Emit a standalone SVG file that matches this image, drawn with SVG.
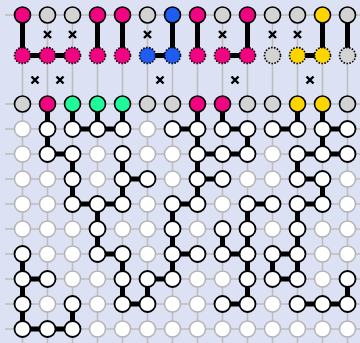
<svg xmlns="http://www.w3.org/2000/svg" width="360" height="343" viewBox="0 0 360 343">
<style>
.bg{fill:#dde1f4}
.gl{stroke:#bdbdbd;stroke-width:1.5;fill:none}
.e{stroke:#000;stroke-width:5;fill:none}
.x{stroke:#000;stroke-width:2.4;fill:none}
circle{stroke-width:1.6}
.t{stroke:#000}
.d{stroke:#000;stroke-dasharray:1.6 1.4}
.a{fill:#fff;stroke:#000;stroke-width:1.8}
.i{fill:#fff;stroke:#b3b3b3;stroke-width:1.5}
.pk{fill:#f0047f}.gy{fill:#d3d3d3}.bl{fill:#1f5cf0}.yl{fill:#ffd500}.gr{fill:#1ffb9b}
</style>
<rect class="bg" width="360" height="343"/>
<g id="grid">
<path class="gl" d="M5 15H360M5 104H360M5 129H360M5 154H360M5 179H360M5 204H360M5 229H360M5 254H360M5 279H360M5 304H360M5 329H360M22.5 15V343M47.5 15V343M72.5 15V343M97.5 15V343M122.5 15V343M147.5 15V343M172.5 15V343M197.5 15V343M222.5 15V343M247.5 15V343M272.5 15V343M297.5 15V343M322.5 15V343M347.5 15V343"/>
</g>
<g id="connectors">
<path class="e" d="M22.5 15V55.5M97.5 15V55.5M122.5 15V55.5M172.5 15V55.5M197.5 15V55.5M247.5 15V55.5M322.5 15V55.5M347.5 15V55.5M22.5 55.5H72.5M147.5 55.5H172.5M222.5 55.5H247.5M297.5 55.5H322.5M47.5 104V129M72.5 104V129M97.5 104V129M122.5 104V129M197.5 104V129M222.5 104V129M297.5 104V129M322.5 104V129M72.5 129H122.5M172.5 129H197.5M222.5 129H247.5M272.5 129H297.5M322.5 129H347.5M47.5 129V154M197.5 129V154M247.5 129V154M322.5 129V154M47.5 154H72.5M197.5 154H247.5M297.5 154H347.5M72.5 154V179M122.5 154V179M197.5 154V179M297.5 154V179M122.5 179H147.5M197.5 179H222.5M297.5 179H322.5M72.5 179V204M122.5 179V204M197.5 179V204M322.5 179V204M72.5 204H122.5M172.5 204H197.5M247.5 204H272.5M297.5 204H322.5M97.5 204V229M172.5 204V229M247.5 204V229M297.5 204V229M97.5 229V254M172.5 229V254M222.5 229V254M247.5 229V254M297.5 229V254M97.5 254H122.5M172.5 254H197.5M222.5 254H247.5M272.5 254H297.5M22.5 254V279M122.5 254V279M172.5 254V279M247.5 254V279M272.5 254V279M297.5 254V279M22.5 279H47.5M147.5 279H172.5M272.5 279H297.5M22.5 279V304M122.5 279V304M147.5 279V304M247.5 279V304M347.5 279V304M122.5 304H147.5M222.5 304H247.5M297.5 304H347.5M22.5 304V329M72.5 304V329M22.5 329H72.5"/>
<path class="x" d="M44 31l7 7m0-7l-7 7M69 31l7 7m0-7l-7 7M144 31l7 7m0-7l-7 7M219 31l7 7m0-7l-7 7M269 31l7 7m0-7l-7 7M294 31l7 7m0-7l-7 7M31.5 76.5l7 7m0-7l-7 7M56.5 76.5l7 7m0-7l-7 7M156.5 76.5l7 7m0-7l-7 7M231.5 76.5l7 7m0-7l-7 7M306.5 76.5l7 7m0-7l-7 7"/>
</g>
<g id="t0"><circle class="t pk" cx="22.5" cy="15" r="8"/></g>
<g id="t1"><circle class="t gy" cx="47.5" cy="15" r="8"/></g>
<g id="t2"><circle class="t gy" cx="72.5" cy="15" r="8"/></g>
<g id="t3"><circle class="t pk" cx="97.5" cy="15" r="8"/></g>
<g id="t4"><circle class="t pk" cx="122.5" cy="15" r="8"/></g>
<g id="t5"><circle class="t gy" cx="147.5" cy="15" r="8"/></g>
<g id="t6"><circle class="t bl" cx="172.5" cy="15" r="8"/></g>
<g id="t7"><circle class="t pk" cx="197.5" cy="15" r="8"/></g>
<g id="t8"><circle class="t gy" cx="222.5" cy="15" r="8"/></g>
<g id="t9"><circle class="t pk" cx="247.5" cy="15" r="8"/></g>
<g id="t10"><circle class="t gy" cx="272.5" cy="15" r="8"/></g>
<g id="t11"><circle class="t gy" cx="297.5" cy="15" r="8"/></g>
<g id="t12"><circle class="t yl" cx="322.5" cy="15" r="8"/></g>
<g id="t13"><circle class="t gy" cx="347.5" cy="15" r="8"/></g>
<g id="m0"><circle class="d pk" cx="22.5" cy="55.5" r="8"/></g>
<g id="m1"><circle class="d pk" cx="47.5" cy="55.5" r="8"/></g>
<g id="m2"><circle class="d pk" cx="72.5" cy="55.5" r="8"/></g>
<g id="m3"><circle class="d pk" cx="97.5" cy="55.5" r="8"/></g>
<g id="m4"><circle class="d pk" cx="122.5" cy="55.5" r="8"/></g>
<g id="m5"><circle class="d bl" cx="147.5" cy="55.5" r="8"/></g>
<g id="m6"><circle class="d bl" cx="172.5" cy="55.5" r="8"/></g>
<g id="m7"><circle class="d pk" cx="197.5" cy="55.5" r="8"/></g>
<g id="m8"><circle class="d pk" cx="222.5" cy="55.5" r="8"/></g>
<g id="m9"><circle class="d pk" cx="247.5" cy="55.5" r="8"/></g>
<g id="m10"><circle class="d gy" cx="272.5" cy="55.5" r="8"/></g>
<g id="m11"><circle class="d yl" cx="297.5" cy="55.5" r="8"/></g>
<g id="m12"><circle class="d yl" cx="322.5" cy="55.5" r="8"/></g>
<g id="m13"><circle class="d gy" cx="347.5" cy="55.5" r="8"/></g>
<g id="n0_0"><circle class="t gy" cx="22.5" cy="104" r="8"/></g>
<g id="n0_1"><circle class="t pk" cx="47.5" cy="104" r="8"/></g>
<g id="n0_2"><circle class="t gr" cx="72.5" cy="104" r="8"/></g>
<g id="n0_3"><circle class="t gr" cx="97.5" cy="104" r="8"/></g>
<g id="n0_4"><circle class="t gr" cx="122.5" cy="104" r="8"/></g>
<g id="n0_5"><circle class="t gy" cx="147.5" cy="104" r="8"/></g>
<g id="n0_6"><circle class="t gy" cx="172.5" cy="104" r="8"/></g>
<g id="n0_7"><circle class="t pk" cx="197.5" cy="104" r="8"/></g>
<g id="n0_8"><circle class="t pk" cx="222.5" cy="104" r="8"/></g>
<g id="n0_9"><circle class="t gy" cx="247.5" cy="104" r="8"/></g>
<g id="n0_10"><circle class="t gy" cx="272.5" cy="104" r="8"/></g>
<g id="n0_11"><circle class="t yl" cx="297.5" cy="104" r="8"/></g>
<g id="n0_12"><circle class="t yl" cx="322.5" cy="104" r="8"/></g>
<g id="n0_13"><circle class="t gy" cx="347.5" cy="104" r="8"/></g>
<g id="n1_0"><circle class="i" cx="22.5" cy="129" r="8"/></g>
<g id="n1_1"><circle class="a" cx="47.5" cy="129" r="8"/></g>
<g id="n1_2"><circle class="a" cx="72.5" cy="129" r="8"/></g>
<g id="n1_3"><circle class="a" cx="97.5" cy="129" r="8"/></g>
<g id="n1_4"><circle class="a" cx="122.5" cy="129" r="8"/></g>
<g id="n1_5"><circle class="i" cx="147.5" cy="129" r="8"/></g>
<g id="n1_6"><circle class="a" cx="172.5" cy="129" r="8"/></g>
<g id="n1_7"><circle class="a" cx="197.5" cy="129" r="8"/></g>
<g id="n1_8"><circle class="a" cx="222.5" cy="129" r="8"/></g>
<g id="n1_9"><circle class="a" cx="247.5" cy="129" r="8"/></g>
<g id="n1_10"><circle class="a" cx="272.5" cy="129" r="8"/></g>
<g id="n1_11"><circle class="a" cx="297.5" cy="129" r="8"/></g>
<g id="n1_12"><circle class="a" cx="322.5" cy="129" r="8"/></g>
<g id="n1_13"><circle class="a" cx="347.5" cy="129" r="8"/></g>
<g id="n2_0"><circle class="i" cx="22.5" cy="154" r="8"/></g>
<g id="n2_1"><circle class="a" cx="47.5" cy="154" r="8"/></g>
<g id="n2_2"><circle class="a" cx="72.5" cy="154" r="8"/></g>
<g id="n2_3"><circle class="i" cx="97.5" cy="154" r="8"/></g>
<g id="n2_4"><circle class="a" cx="122.5" cy="154" r="8"/></g>
<g id="n2_5"><circle class="i" cx="147.5" cy="154" r="8"/></g>
<g id="n2_6"><circle class="i" cx="172.5" cy="154" r="8"/></g>
<g id="n2_7"><circle class="a" cx="197.5" cy="154" r="8"/></g>
<g id="n2_8"><circle class="a" cx="222.5" cy="154" r="8"/></g>
<g id="n2_9"><circle class="a" cx="247.5" cy="154" r="8"/></g>
<g id="n2_10"><circle class="i" cx="272.5" cy="154" r="8"/></g>
<g id="n2_11"><circle class="a" cx="297.5" cy="154" r="8"/></g>
<g id="n2_12"><circle class="a" cx="322.5" cy="154" r="8"/></g>
<g id="n2_13"><circle class="a" cx="347.5" cy="154" r="8"/></g>
<g id="n3_0"><circle class="i" cx="22.5" cy="179" r="8"/></g>
<g id="n3_1"><circle class="i" cx="47.5" cy="179" r="8"/></g>
<g id="n3_2"><circle class="a" cx="72.5" cy="179" r="8"/></g>
<g id="n3_3"><circle class="i" cx="97.5" cy="179" r="8"/></g>
<g id="n3_4"><circle class="a" cx="122.5" cy="179" r="8"/></g>
<g id="n3_5"><circle class="a" cx="147.5" cy="179" r="8"/></g>
<g id="n3_6"><circle class="i" cx="172.5" cy="179" r="8"/></g>
<g id="n3_7"><circle class="a" cx="197.5" cy="179" r="8"/></g>
<g id="n3_8"><circle class="a" cx="222.5" cy="179" r="8"/></g>
<g id="n3_9"><circle class="i" cx="247.5" cy="179" r="8"/></g>
<g id="n3_10"><circle class="i" cx="272.5" cy="179" r="8"/></g>
<g id="n3_11"><circle class="a" cx="297.5" cy="179" r="8"/></g>
<g id="n3_12"><circle class="a" cx="322.5" cy="179" r="8"/></g>
<g id="n3_13"><circle class="i" cx="347.5" cy="179" r="8"/></g>
<g id="n4_0"><circle class="i" cx="22.5" cy="204" r="8"/></g>
<g id="n4_1"><circle class="i" cx="47.5" cy="204" r="8"/></g>
<g id="n4_2"><circle class="a" cx="72.5" cy="204" r="8"/></g>
<g id="n4_3"><circle class="a" cx="97.5" cy="204" r="8"/></g>
<g id="n4_4"><circle class="a" cx="122.5" cy="204" r="8"/></g>
<g id="n4_5"><circle class="i" cx="147.5" cy="204" r="8"/></g>
<g id="n4_6"><circle class="a" cx="172.5" cy="204" r="8"/></g>
<g id="n4_7"><circle class="a" cx="197.5" cy="204" r="8"/></g>
<g id="n4_8"><circle class="i" cx="222.5" cy="204" r="8"/></g>
<g id="n4_9"><circle class="a" cx="247.5" cy="204" r="8"/></g>
<g id="n4_10"><circle class="a" cx="272.5" cy="204" r="8"/></g>
<g id="n4_11"><circle class="a" cx="297.5" cy="204" r="8"/></g>
<g id="n4_12"><circle class="a" cx="322.5" cy="204" r="8"/></g>
<g id="n4_13"><circle class="i" cx="347.5" cy="204" r="8"/></g>
<g id="n5_0"><circle class="i" cx="22.5" cy="229" r="8"/></g>
<g id="n5_1"><circle class="i" cx="47.5" cy="229" r="8"/></g>
<g id="n5_2"><circle class="i" cx="72.5" cy="229" r="8"/></g>
<g id="n5_3"><circle class="a" cx="97.5" cy="229" r="8"/></g>
<g id="n5_4"><circle class="i" cx="122.5" cy="229" r="8"/></g>
<g id="n5_5"><circle class="i" cx="147.5" cy="229" r="8"/></g>
<g id="n5_6"><circle class="a" cx="172.5" cy="229" r="8"/></g>
<g id="n5_7"><circle class="i" cx="197.5" cy="229" r="8"/></g>
<g id="n5_8"><circle class="a" cx="222.5" cy="229" r="8"/></g>
<g id="n5_9"><circle class="a" cx="247.5" cy="229" r="8"/></g>
<g id="n5_10"><circle class="i" cx="272.5" cy="229" r="8"/></g>
<g id="n5_11"><circle class="a" cx="297.5" cy="229" r="8"/></g>
<g id="n5_12"><circle class="i" cx="322.5" cy="229" r="8"/></g>
<g id="n5_13"><circle class="i" cx="347.5" cy="229" r="8"/></g>
<g id="n6_0"><circle class="a" cx="22.5" cy="254" r="8"/></g>
<g id="n6_1"><circle class="i" cx="47.5" cy="254" r="8"/></g>
<g id="n6_2"><circle class="i" cx="72.5" cy="254" r="8"/></g>
<g id="n6_3"><circle class="a" cx="97.5" cy="254" r="8"/></g>
<g id="n6_4"><circle class="a" cx="122.5" cy="254" r="8"/></g>
<g id="n6_5"><circle class="i" cx="147.5" cy="254" r="8"/></g>
<g id="n6_6"><circle class="a" cx="172.5" cy="254" r="8"/></g>
<g id="n6_7"><circle class="a" cx="197.5" cy="254" r="8"/></g>
<g id="n6_8"><circle class="a" cx="222.5" cy="254" r="8"/></g>
<g id="n6_9"><circle class="a" cx="247.5" cy="254" r="8"/></g>
<g id="n6_10"><circle class="a" cx="272.5" cy="254" r="8"/></g>
<g id="n6_11"><circle class="a" cx="297.5" cy="254" r="8"/></g>
<g id="n6_12"><circle class="i" cx="322.5" cy="254" r="8"/></g>
<g id="n6_13"><circle class="i" cx="347.5" cy="254" r="8"/></g>
<g id="n7_0"><circle class="a" cx="22.5" cy="279" r="8"/></g>
<g id="n7_1"><circle class="a" cx="47.5" cy="279" r="8"/></g>
<g id="n7_2"><circle class="i" cx="72.5" cy="279" r="8"/></g>
<g id="n7_3"><circle class="i" cx="97.5" cy="279" r="8"/></g>
<g id="n7_4"><circle class="a" cx="122.5" cy="279" r="8"/></g>
<g id="n7_5"><circle class="a" cx="147.5" cy="279" r="8"/></g>
<g id="n7_6"><circle class="a" cx="172.5" cy="279" r="8"/></g>
<g id="n7_7"><circle class="i" cx="197.5" cy="279" r="8"/></g>
<g id="n7_8"><circle class="i" cx="222.5" cy="279" r="8"/></g>
<g id="n7_9"><circle class="a" cx="247.5" cy="279" r="8"/></g>
<g id="n7_10"><circle class="a" cx="272.5" cy="279" r="8"/></g>
<g id="n7_11"><circle class="a" cx="297.5" cy="279" r="8"/></g>
<g id="n7_12"><circle class="i" cx="322.5" cy="279" r="8"/></g>
<g id="n7_13"><circle class="a" cx="347.5" cy="279" r="8"/></g>
<g id="n8_0"><circle class="a" cx="22.5" cy="304" r="8"/></g>
<g id="n8_1"><circle class="i" cx="47.5" cy="304" r="8"/></g>
<g id="n8_2"><circle class="a" cx="72.5" cy="304" r="8"/></g>
<g id="n8_3"><circle class="i" cx="97.5" cy="304" r="8"/></g>
<g id="n8_4"><circle class="a" cx="122.5" cy="304" r="8"/></g>
<g id="n8_5"><circle class="a" cx="147.5" cy="304" r="8"/></g>
<g id="n8_6"><circle class="i" cx="172.5" cy="304" r="8"/></g>
<g id="n8_7"><circle class="i" cx="197.5" cy="304" r="8"/></g>
<g id="n8_8"><circle class="a" cx="222.5" cy="304" r="8"/></g>
<g id="n8_9"><circle class="a" cx="247.5" cy="304" r="8"/></g>
<g id="n8_10"><circle class="i" cx="272.5" cy="304" r="8"/></g>
<g id="n8_11"><circle class="a" cx="297.5" cy="304" r="8"/></g>
<g id="n8_12"><circle class="a" cx="322.5" cy="304" r="8"/></g>
<g id="n8_13"><circle class="a" cx="347.5" cy="304" r="8"/></g>
<g id="n9_0"><circle class="a" cx="22.5" cy="329" r="8"/></g>
<g id="n9_1"><circle class="a" cx="47.5" cy="329" r="8"/></g>
<g id="n9_2"><circle class="a" cx="72.5" cy="329" r="8"/></g>
<g id="n9_3"><circle class="i" cx="97.5" cy="329" r="8"/></g>
<g id="n9_4"><circle class="i" cx="122.5" cy="329" r="8"/></g>
<g id="n9_5"><circle class="i" cx="147.5" cy="329" r="8"/></g>
<g id="n9_6"><circle class="i" cx="172.5" cy="329" r="8"/></g>
<g id="n9_7"><circle class="i" cx="197.5" cy="329" r="8"/></g>
<g id="n9_8"><circle class="i" cx="222.5" cy="329" r="8"/></g>
<g id="n9_9"><circle class="i" cx="247.5" cy="329" r="8"/></g>
<g id="n9_10"><circle class="i" cx="272.5" cy="329" r="8"/></g>
<g id="n9_11"><circle class="i" cx="297.5" cy="329" r="8"/></g>
<g id="n9_12"><circle class="i" cx="322.5" cy="329" r="8"/></g>
<g id="n9_13"><circle class="i" cx="347.5" cy="329" r="8"/></g>
</svg>
